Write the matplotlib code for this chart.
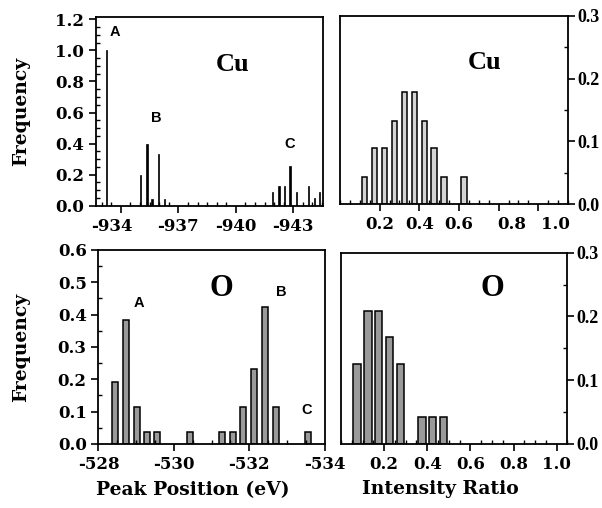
import matplotlib
matplotlib.use("Agg")
import matplotlib.pyplot as plt
from matplotlib.ticker import MultipleLocator, FormatStrFormatter
from matplotlib.transforms import ScaledTranslation

# ---- data ----
cu_pos = [-933.25, -935.03, -935.37, -935.63, -935.95, -936.26,
          -941.91, -942.26, -942.55, -942.83, -943.17, -943.81, -944.12, -944.38]
cu_pos_freq = [1.0, 0.2, 0.4, 0.045, 0.33, 0.045,
               0.09, 0.128, 0.128, 0.254, 0.09, 0.128, 0.047, 0.09]

cu_ratio = [0.125, 0.175, 0.225, 0.275, 0.325, 0.375, 0.425, 0.475, 0.525, 0.625]
cu_ratio_freq = [0.044, 0.09, 0.09, 0.133, 0.178, 0.178, 0.133, 0.09, 0.044, 0.044]

o_pos = [-528.44, -528.72, -529.02, -529.28, -529.56, -530.43, -531.28,
         -531.57, -531.83, -532.13, -532.42, -532.72, -533.57]
o_pos_freq = [0.192, 0.385, 0.115, 0.038, 0.038, 0.038, 0.038,
              0.038, 0.115, 0.231, 0.423, 0.115, 0.038]

o_ratio = [0.075, 0.125, 0.175, 0.225, 0.275, 0.375, 0.425, 0.475]
o_ratio_freq = [0.125, 0.208, 0.208, 0.167, 0.125, 0.042, 0.042, 0.042]

cu_peak_labels = ["A", "B", "C"]
o_peak_labels = ["A", "B", "C"]

pos_ticks_cu = [-934, -937, -940, -943]
pos_ticks_o = [-528, -530, -532, -534]
ratio_ticks = [0.2, 0.4, 0.6, 0.8, 1.0]

# ---- style ----
plt.rcParams['font.family'] = ['DejaVu Serif', 'Liberation Serif']
plt.rcParams['font.weight'] = 'bold'
plt.rcParams['axes.linewidth'] = 1.3
plt.rcParams['axes.unicode_minus'] = False

fig = plt.figure(figsize=(6.02, 5.08), dpi=100)
ax_tl = fig.add_axes([0.1595, 0.595, 0.377, 0.3715])
ax_tr = fig.add_axes([0.5648, 0.5978, 0.3787, 0.3713])
ax_bl = fig.add_axes([0.1636, 0.126, 0.3762, 0.3819])
ax_br = fig.add_axes([0.5664, 0.126, 0.3762, 0.3766])

TICKFS = 12
TITLEFONT = ['Liberation Serif', 'DejaVu Serif']
SANS = ['Liberation Sans', 'DejaVu Sans']
LABFS = 13.5

def style(ax, right=False):
    ax.tick_params(which='major', direction='out', length=5, width=1.2,
                   labelsize=TICKFS)
    ax.tick_params(which='minor', direction='in', length=3, width=1.0)
    for lab in ax.get_xticklabels() + ax.get_yticklabels():
        lab.set_fontweight('bold')
    if right:
        ax.tick_params(axis='y', which='major', pad=1.5)
        for lab in ax.get_yticklabels():
            lab.set_family(TITLEFONT)
            lab.set_fontsize(13)

def shift_label(ax, idx, dx_px):
    lab = ax.get_xticklabels()[idx]
    lab.set_transform(lab.get_transform() + ScaledTranslation(dx_px / 100.0, 0, fig.dpi_scale_trans))

# Top-left: Cu peak position
ax_tl.bar(cu_pos, cu_pos_freq, width=0.07, color='black', edgecolor='black', linewidth=0.5)
ax_tl.set_xlim(-932.7, -944.55)
ax_tl.set_ylim(0, 1.215)
ax_tl.set_xticks(pos_ticks_cu)
ax_tl.xaxis.set_minor_locator(MultipleLocator(0.5))
ax_tl.set_yticks([0.0, 0.2, 0.4, 0.6, 0.8, 1.0, 1.2])
ax_tl.yaxis.set_major_formatter(FormatStrFormatter('%.1f'))
ax_tl.yaxis.set_minor_locator(MultipleLocator(0.05))
ax_tl.set_ylabel('Frequency', fontsize=LABFS, fontweight='bold')
ax_tl.yaxis.set_label_coords(-0.33, 0.5)
ax_tl.yaxis.label.set_va('center')
style(ax_tl)
shift_label(ax_tl, 0, -9)
for lab, x, y in zip(cu_peak_labels, [-933.7, -935.86, -942.8], [1.12, 0.565, 0.40]):
    ax_tl.text(x, y, lab, family=SANS, fontweight='bold', fontsize=10.5,
               ha='center', va='center')
ax_tl.text(-939.84, 0.91, 'Cu', family=TITLEFONT, fontsize=19, fontweight='bold',
           ha='center', va='center')

# Top-right: Cu intensity ratio
ax_tr.bar(cu_ratio, cu_ratio_freq, width=0.027, color='#d4d4d4', edgecolor='black', linewidth=1.1)
ax_tr.set_xlim(0, 1.15)
ax_tr.set_ylim(0, 0.3)
ax_tr.set_xticks(ratio_ticks)
ax_tr.xaxis.set_major_formatter(FormatStrFormatter('%.1f'))
ax_tr.xaxis.set_minor_locator(MultipleLocator(0.05))
ax_tr.yaxis.tick_right()
ax_tr.set_yticks([0.0, 0.1, 0.2, 0.3])
ax_tr.yaxis.set_major_formatter(FormatStrFormatter('%.1f'))
ax_tr.yaxis.set_minor_locator(MultipleLocator(0.05))
style(ax_tr, right=True)
shift_label(ax_tr, 3, 13)
shift_label(ax_tr, 4, 17)
ax_tr.text(0.73, 0.2256, 'Cu', family=TITLEFONT, fontsize=19, fontweight='bold',
           ha='center', va='center')

# Bottom-left: O peak position
ax_bl.bar(o_pos, o_pos_freq, width=0.16, color='#9a9a9a', edgecolor='black', linewidth=1.1)
ax_bl.set_xlim(-528, -534.01)
ax_bl.set_ylim(0, 0.6)
ax_bl.set_xticks(pos_ticks_o)
ax_bl.xaxis.set_minor_locator(MultipleLocator(0.5))
ax_bl.set_yticks([0.0, 0.1, 0.2, 0.3, 0.4, 0.5, 0.6])
ax_bl.yaxis.set_major_formatter(FormatStrFormatter('%.1f'))
ax_bl.yaxis.set_minor_locator(MultipleLocator(0.05))
ax_bl.set_ylabel('Frequency', fontsize=LABFS, fontweight='bold')
ax_bl.yaxis.set_label_coords(-0.34, 0.5)
ax_bl.yaxis.label.set_va('center')
ax_bl.set_xlabel('Peak Position (eV)', fontsize=LABFS, fontweight='bold')
ax_bl.xaxis.set_label_coords(0.417, -0.237)
ax_bl.xaxis.label.set_va('center')
style(ax_bl)
for lab, x, y in zip(o_peak_labels, [-529.08, -532.86, -533.52], [0.435, 0.47, 0.105]):
    ax_bl.text(x, y, lab, family=SANS, fontweight='bold', fontsize=10.5,
               ha='center', va='center')
ax_bl.text(-531.27, 0.48, 'O', family=TITLEFONT, fontsize=22, fontweight='bold',
           ha='center', va='center')

# Bottom-right: O intensity ratio
ax_br.bar(o_ratio, o_ratio_freq, width=0.034, color='#9a9a9a', edgecolor='black', linewidth=1.1)
ax_br.set_xlim(0, 1.05)
ax_br.set_ylim(0, 0.3)
ax_br.set_xticks(ratio_ticks)
ax_br.xaxis.set_major_formatter(FormatStrFormatter('%.1f'))
ax_br.xaxis.set_minor_locator(MultipleLocator(0.05))
ax_br.yaxis.tick_right()
ax_br.set_yticks([0.0, 0.1, 0.2, 0.3])
ax_br.yaxis.set_major_formatter(FormatStrFormatter('%.1f'))
ax_br.yaxis.set_minor_locator(MultipleLocator(0.05))
ax_br.set_xlabel('Intensity Ratio', fontsize=LABFS, fontweight='bold')
ax_br.xaxis.set_label_coords(0.437, -0.237)
ax_br.xaxis.label.set_va('center')
style(ax_br, right=True)
ax_br.text(0.70, 0.244, 'O', family=TITLEFONT, fontsize=22, fontweight='bold',
           ha='center', va='center')

fig.savefig('out.png', dpi=100)
